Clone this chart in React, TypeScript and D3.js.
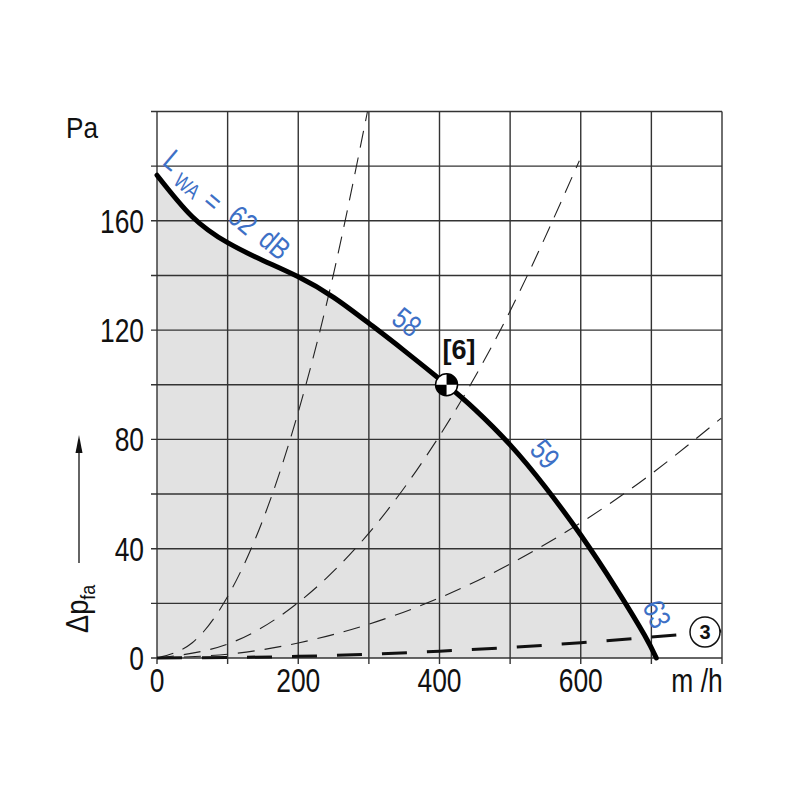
import React from "react";
import * as d3 from "d3";

const xTicks = [0, 200, 400, 600];
const yTicks = [0, 40, 80, 120, 160];
const xGrid = [0, 100, 200, 300, 400, 500, 600, 700, 800];
const yGrid = [0, 20, 40, 60, 80, 100, 120, 140, 160, 180, 200];

// fan characteristic
const fanQ = [0, 50, 100, 150, 200, 250, 300, 350, 410, 450, 500, 550, 600, 650, 690, 707];
const fanP = [176.7, 161.5, 152, 145.5, 139.5, 132, 122.5, 112.5, 100, 91, 78, 62.5, 45, 25.5, 8.5, 0];

// system curves (thin dashed)
const sysAQ = [0, 50, 100, 150, 200, 250, 298];
const sysAP = [0, 5.6, 22.5, 50.6, 90, 140.6, 200];
const sysBQ = [0, 100, 200, 300, 400, 500, 598];
const sysBP = [0, 5.1, 20.3, 45.7, 81.3, 127, 182];
const sysCQ = [0, 100, 200, 300, 400, 500, 600, 700, 799];
const sysCP = [0, 1.4, 5.5, 12.4, 22, 34.4, 49.5, 67.4, 87.8];
// system curve 3 (thick dashed)
const sysDQ = [0, 200, 400, 600, 800];
const sysDP = [0, 0.6, 2.5, 5.6, 9.9];

const opQ = 410;
const opP = 100;

const BLUE = "#3d70c6";
const FONT = "'Liberation Sans', Arial, sans-serif";

export default function App() {
  const x = d3.scaleLinear().domain([0, 800]).range([157, 722]);
  const y = d3.scaleLinear().domain([0, 200]).range([658, 111.5]);

  const zip = (q: number[], p: number[]) => q.map((v, i) => [v, p[i]] as [number, number]);
  const line = d3
    .line<[number, number]>()
    .x((d) => x(d[0]))
    .y((d) => y(d[1]))
    .curve(d3.curveNatural);
  const area = d3
    .area<[number, number]>()
    .x((d) => x(d[0]))
    .y0(y(0))
    .y1((d) => y(d[1]))
    .curve(d3.curveNatural);

  const fan = zip(fanQ, fanP);
  const ox = x(opQ);
  const oy = y(opP);
  const r = 11;

  const circX = 705;
  const circY = y(9.5);

  const cond = (px: number, py: number, rot = 0, sx = 0.8) =>
    `translate(${px},${py}) rotate(${rot}) scale(${sx},1)`;

  const blueLabel = (t: string, cx: number, cy: number, rot: number, fs = 30) => (
    <text transform={cond(cx, cy, rot)} fontSize={fs} fill={BLUE} textAnchor="middle" dominantBaseline="central">
      {t}
    </text>
  );

  return (
    <svg width={800} height={800} style={{ position: "absolute", left: 0, top: 0, background: "#fff" }} fontFamily={FONT}>
      <rect x={0} y={0} width={800} height={800} fill="#fff" />
      <path d={area(fan) || ""} fill="#e2e2e2" />
      {/* grid */}
      {yGrid.map((v) => (
        <line key={"h" + v} x1={151} x2={x(800)} y1={y(v)} y2={y(v)} stroke="#333" strokeWidth={1.4} />
      ))}
      {xGrid.map((v) => (
        <line key={"v" + v} x1={x(v)} x2={x(v)} y1={y(200)} y2={664} stroke="#333" strokeWidth={1.4} />
      ))}
      {/* system curves */}
      {[zip(sysAQ, sysAP), zip(sysBQ, sysBP), zip(sysCQ, sysCP)].map((d, i) => (
        <path key={"s" + i} d={line(d) || ""} fill="none" stroke="#222" strokeWidth={1.1} strokeDasharray="17,10" />
      ))}
      <path d={line(zip(sysDQ, sysDP)) || ""} fill="none" stroke="#111" strokeWidth={3} strokeDasharray="25,20" />
      {/* fan curve */}
      <path d={line(fan) || ""} fill="none" stroke="#000" strokeWidth={5} strokeLinecap="round" />
      {/* operating point */}
      <circle cx={ox} cy={oy} r={r} fill="#fff" stroke="#000" strokeWidth={1.5} />
      <path d={`M${ox},${oy} L${ox},${oy - r} A${r},${r} 0 0 1 ${ox + r},${oy} Z`} fill="#000" />
      <path d={`M${ox},${oy} L${ox},${oy + r} A${r},${r} 0 0 1 ${ox - r},${oy} Z`} fill="#000" />
      <text x={459} y={359} fontSize={27} fontWeight="bold" textAnchor="middle" fill="#111">[6]</text>
      {/* circle 3 */}
      <circle cx={circX} cy={circY} r={15} fill="#fff" stroke="#111" strokeWidth={1.5} />
      <text x={circX} y={circY + 7} fontSize={20} fontWeight="bold" textAnchor="middle" fill="#111">3</text>
      {/* blue labels */}
      {blueLabel("L", 173, 160, 40)}
      {blueLabel("WA", 187, 186, 40, 21)}
      {blueLabel("=", 213, 201, 40)}
      {blueLabel("62", 243, 220, 40)}
      {blueLabel("dB", 275, 244, 40)}
      {blueLabel("58", 407, 322, 38)}
      {blueLabel("59", 545, 454, 50)}
      {blueLabel("63", 657, 614, 66)}
      {/* tick labels */}
      {xTicks.map((v) => (
        <text key={"xt" + v} transform={cond(x(v), 692)} fontSize={33} textAnchor="middle" fill="#111">{v}</text>
      ))}
      <text transform={cond(697, 692)} fontSize={33} textAnchor="middle" fill="#111">m /h</text>
      {yTicks.map((v) => (
        <text key={"yt" + v} transform={cond(144, y(v) + 12)} fontSize={33} textAnchor="end" fill="#111">{v}</text>
      ))}
      <text transform={cond(66, 138, 0, 0.9)} fontSize={29} fill="#111">Pa</text>
      {/* y axis label with arrow */}
      <line x1={79} x2={79} y1={563} y2={450} stroke="#111" strokeWidth={1.3} />
      <path d="M79,435 L75.5,453 L82.5,453 Z" fill="#111" />
      <text transform={`translate(88,633) rotate(-90) scale(0.85,1)`} fontSize={32} fill="#111">
        Δp<tspan fontSize={21} dy={7}>fa</tspan>
      </text>
    </svg>
  );
}
